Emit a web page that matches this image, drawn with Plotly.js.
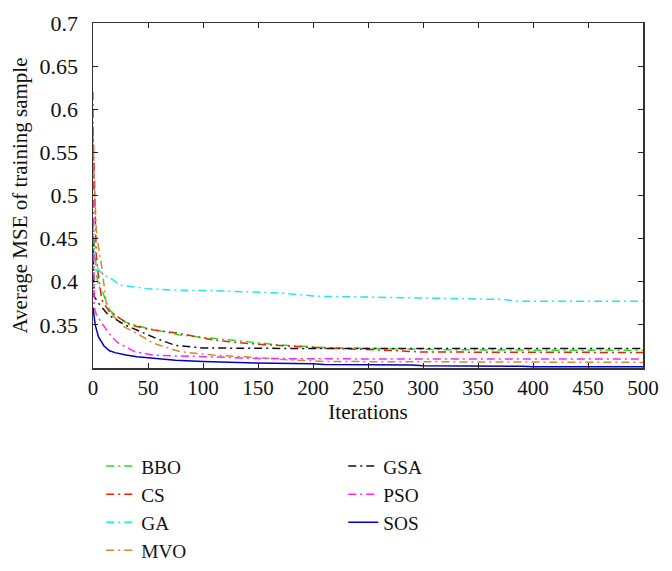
<!DOCTYPE html>
<html>
<head>
<meta charset="utf-8">
<script src="https://cdn.plot.ly/plotly-3.0.1.min.js"></script>
<style>html,body{margin:0;padding:0;background:#fff;}#chart{width:672px;height:571px;}</style>
</head>
<body>
<div id="chart"></div>
<script>
// Iteration sample points and average MSE values
const bboIter = [0, 1, 3, 5, 8, 15, 28, 49, 79, 109, 139, 170, 212, 260, 320, 400, 500];
const bboMSE  = [0.47, 0.45, 0.41, 0.395, 0.3904, 0.367, 0.3537, 0.346, 0.3383, 0.3344, 0.3305, 0.3267, 0.3236, 0.3222, 0.3212, 0.3207, 0.3205];

const csIter = [0, 1, 2, 3, 5, 8, 15, 34, 50, 79, 109, 139, 170, 212, 260, 300, 500];
const csMSE  = [0.58, 0.52, 0.456, 0.43, 0.406, 0.379, 0.365, 0.35, 0.345, 0.34, 0.3325, 0.3286, 0.326, 0.323, 0.321, 0.3185, 0.318];

const gaIter = [0, 2, 5, 10, 16, 25, 49, 79, 109, 139, 170, 188, 200, 213, 300, 373, 385, 500];
const gaMSE  = [0.437, 0.425, 0.4136, 0.408, 0.404, 0.396, 0.392, 0.39, 0.3897, 0.3885, 0.387, 0.385, 0.3835, 0.383, 0.381, 0.3795, 0.3775, 0.3775];

const mvoIter = [0, 1, 3, 5, 8, 12, 19, 28, 40, 55, 79, 109, 139, 170, 212, 300, 500];
const mvoMSE  = [0.57, 0.52, 0.46, 0.44, 0.4175, 0.375, 0.3595, 0.348, 0.34, 0.3286, 0.319, 0.315, 0.313, 0.31, 0.3075, 0.307, 0.3065];

const gsaIter = [0, 1, 5, 14, 29, 44, 59, 75, 100, 200, 500];
const gsaMSE  = [0.45, 0.383, 0.375, 0.3615, 0.35, 0.342, 0.3335, 0.3262, 0.3232, 0.3225, 0.3225];

const psoIter = [0, 1, 3, 8, 17, 23, 38, 54, 72, 93, 150, 250, 500];
const psoMSE  = [0.62, 0.371, 0.362, 0.352, 0.336, 0.329, 0.319, 0.315, 0.314, 0.3135, 0.311, 0.3105, 0.3105];

const sosIter = [0, 2, 5, 10, 15, 20, 30, 40, 55, 75, 100, 140, 200, 210, 290, 300, 390, 400, 500];
const sosMSE  = [0.37, 0.35, 0.336, 0.3255, 0.32, 0.3178, 0.315, 0.313, 0.3112, 0.309, 0.3075, 0.306, 0.305, 0.304, 0.3035, 0.3025, 0.302, 0.3015, 0.3015];

const yTicks = [0.35, 0.4, 0.45, 0.5, 0.55, 0.6, 0.65, 0.7];
const xTicks = [0, 50, 100, 150, 200, 250, 300, 350, 400, 450, 500];

const dashDot = "8px,4px,2px,4px";
function tr(name, x, y, color, dash, legend) {
  return {type: "scatter", mode: "lines", name: name, x: x, y: y,
    line: {color: color, width: 1.5, dash: dash}, legend: legend};
}
const data = [
  tr("BBO", bboIter, bboMSE, "#22e022", dashDot, "legend"),
  tr("CS", csIter, csMSE, "#ee2200", dashDot, "legend"),
  tr("GA", gaIter, gaMSE, "#22e8e8", dashDot, "legend"),
  tr("MVO", mvoIter, mvoMSE, "#d08a30", dashDot, "legend"),
  tr("GSA", gsaIter, gsaMSE, "#111111", dashDot, "legend2"),
  tr("PSO", psoIter, psoMSE, "#ff22ff", dashDot, "legend2"),
  tr("SOS", sosIter, sosMSE, "#0000cc", "solid", "legend2")
];
const serif = "Liberation Serif, Times New Roman, serif";
const layout = {
  width: 672, height: 571,
  margin: {l: 93, r: 29, t: 23, b: 203, autoexpand: false},
  paper_bgcolor: "#fff", plot_bgcolor: "#fff",
  font: {family: serif, size: 20, color: "#111"},
  showlegend: true,
  xaxis: {range: [0, 500], tickvals: xTicks, ticks: "inside", ticklen: 5, tickcolor: "#222",
    showline: true, linecolor: "#333", linewidth: 1.5, mirror: "ticks", showgrid: false, zeroline: false,
    tickfont: {family: serif, size: 21, color: "#111"}, ticklabelstandoff: 0,
    title: {text: "Iterations", font: {family: serif, size: 21, color: "#111"}, standoff: 5}},
  yaxis: {range: [0.3, 0.7], tickvals: yTicks, ticktext: yTicks.map(String), ticks: "inside", ticklen: 5, tickcolor: "#222",
    showline: true, linecolor: "#333", linewidth: 1.5, mirror: "ticks", showgrid: false, zeroline: false,
    tickfont: {family: serif, size: 22, color: "#111"}, ticklabelstandoff: 9,
    title: {text: "Average MSE of training sample", font: {family: serif, size: 21, color: "#111"}, standoff: 6}},
  legend: {x: 0.015, y: -0.229, xanchor: "left", yanchor: "top", bgcolor: "rgba(0,0,0,0)",
    font: {family: serif, size: 19.3, color: "#111"}, tracegroupgap: 0},
  legend2: {x: 0.455, y: -0.229, xanchor: "left", yanchor: "top", bgcolor: "rgba(0,0,0,0)",
    font: {family: serif, size: 19.3, color: "#111"}, tracegroupgap: 0}
};
Plotly.newPlot("chart", data, layout, {displayModeBar: false, staticPlot: true});
</script>
</body>
</html>
